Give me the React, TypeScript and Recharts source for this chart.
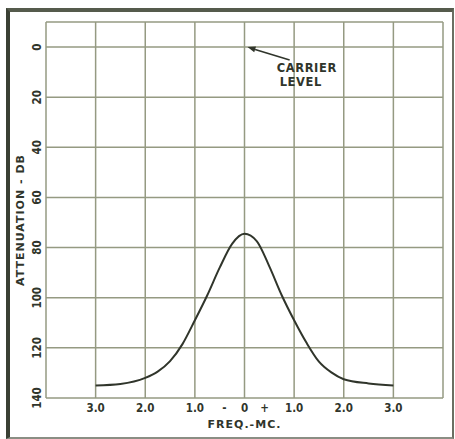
import React from 'react';
import { LineChart, Line, XAxis, YAxis, CartesianGrid, ReferenceLine } from 'recharts';

// Frequency offset from carrier (MC) and attenuation (DB)
const freq = [-3, -2.5, -2, -1.75, -1.5, -1.25, -1, -0.75, -0.5, -0.25, 0, 0.25, 0.5, 0.75, 1, 1.25, 1.5, 1.75, 2, 2.5, 3];
const atten = [135, 134.4, 132, 129.5, 125.3, 118.5, 109, 99, 88, 78.5, 74.5, 77.5, 87.5, 99, 109, 118, 125.5, 129.8, 132.5, 134.2, 135];

const xTicks = [-4, -3, -2, -1, 0, 1, 2, 3, 4];
const yTicks = [-10, 0, 20, 40, 60, 80, 100, 120, 140];

const xLabel = 'FREQ.-MC.';
const yLabel = 'ATTENUATION - DB';
const noteLines = ['CARRIER', 'LEVEL'];
// arrow: tail -> head (carrier level at 0 MC, 0 DB)
const arrowTail = { x: 0.91, y: 5.2 };
const arrowHead = { x: 0.06, y: 0 };

const data = freq.map((f, i) => ({ f, a: atten[i] }));

const INK = '#30352b';
const GRID = '#959a82';
const FONT = "'DejaVu Sans Condensed', 'Liberation Sans Narrow', 'DejaVu Sans', sans-serif";

const XTick = (props: any) => {
  const { x, y, payload } = props;
  const v = payload.value;
  if (v === -4 || v === 4) return null;
  const ty = y + 6;
  if (v === 0) {
    return (
      <g fill={INK} fontFamily={FONT} fontWeight="bold" fontSize={11.5}>
        <text x={x - 20} y={ty} textAnchor="middle">-</text>
        <text x={x} y={ty} textAnchor="middle">0</text>
        <text x={x + 20} y={ty} textAnchor="middle">+</text>
      </g>
    );
  }
  return (
    <text x={x} y={ty} textAnchor="middle" fill={INK} fontFamily={FONT} fontWeight="bold" fontSize={11.5}>
      {Math.abs(v).toFixed(1)}
    </text>
  );
};

const YTick = (props: any) => {
  const { y, payload } = props;
  if (payload.value === -10) return null;
  return (
    <text
      x={0}
      y={0}
      transform={`translate(41, ${y}) rotate(-90)`}
      textAnchor="middle"
      fill={INK}
      fontFamily={FONT}
      fontWeight="bold"
      fontSize={11.5}
    >
      {payload.value}
    </text>
  );
};

const arrowShape = (p: any) => {
  const { x1, y1, x2, y2 } = p;
  const ang = Math.atan2(y2 - y1, x2 - x1);
  const L = 8;
  const W = 3;
  const bx = x2 - L * Math.cos(ang);
  const by = y2 - L * Math.sin(ang);
  const px = -Math.sin(ang) * W;
  const py = Math.cos(ang) * W;
  return (
    <g>
      <line x1={x1} y1={y1} x2={bx} y2={by} stroke={INK} strokeWidth={1.6} />
      <polygon points={`${x2},${y2} ${bx + px},${by + py} ${bx - px},${by - py}`} fill={INK} />
      <text x={x1 - 13} y={y1 + 12} fill={INK} fontFamily="'DejaVu Sans', sans-serif" fontWeight="bold" fontSize={11.5} letterSpacing={0.6}>
        {noteLines[0]}
      </text>
      <text x={x1 - 10} y={y1 + 26} fill={INK} fontFamily="'DejaVu Sans', sans-serif" fontWeight="bold" fontSize={11.5} letterSpacing={0.6}>
        {noteLines[1]}
      </text>
    </g>
  );
};

export default function App() {
  return (
    <div style={{ position: 'absolute', left: 0, top: 0, width: 455, height: 439, background: '#fff', overflow: 'hidden' }}>
      <div
        style={{
          position: 'absolute',
          left: 6,
          top: 8,
          width: 442,
          height: 425,
          borderLeft: '4px solid #3a4034',
          borderTop: '4px solid #555b4c',
          borderRight: '2px solid #6a6f62',
          borderBottom: '2px solid #8a8e84',
        }}
      />
      <div style={{ position: 'absolute', left: 0, top: 0 }}>
        <LineChart width={455} height={439} data={data} margin={{ top: 22, right: 12, left: 0, bottom: 0 }}>
          <CartesianGrid stroke={GRID} strokeWidth={1.5} />
          <XAxis
            dataKey="f"
            type="number"
            domain={[-4, 4]}
            ticks={xTicks}
            interval={0}
            height={41}
            axisLine={false}
            tickLine={false}
            tick={<XTick />}
            label={{ value: xLabel, position: 'insideBottom', offset: 11, fill: INK, fontFamily: "'DejaVu Sans', sans-serif", fontWeight: 'bold', fontSize: 11, letterSpacing: 1 }}
          />
          <YAxis
            type="number"
            domain={[-10, 140]}
            reversed
            ticks={yTicks}
            interval={0}
            width={46}
            axisLine={false}
            tickLine={false}
            tick={<YTick />}
            label={{ value: yLabel, angle: -90, position: 'insideLeft', offset: 20, dy: 10, fill: INK, fontFamily: "'DejaVu Sans', sans-serif", fontWeight: 'bold', fontSize: 11, letterSpacing: 1, style: { textAnchor: 'middle' } }}
          />
          <ReferenceLine segment={[arrowTail, arrowHead]} shape={arrowShape} />
          <Line dataKey="a" type="monotone" stroke={INK} strokeWidth={2} dot={false} isAnimationActive={false} />
        </LineChart>
      </div>
    </div>
  );
}
